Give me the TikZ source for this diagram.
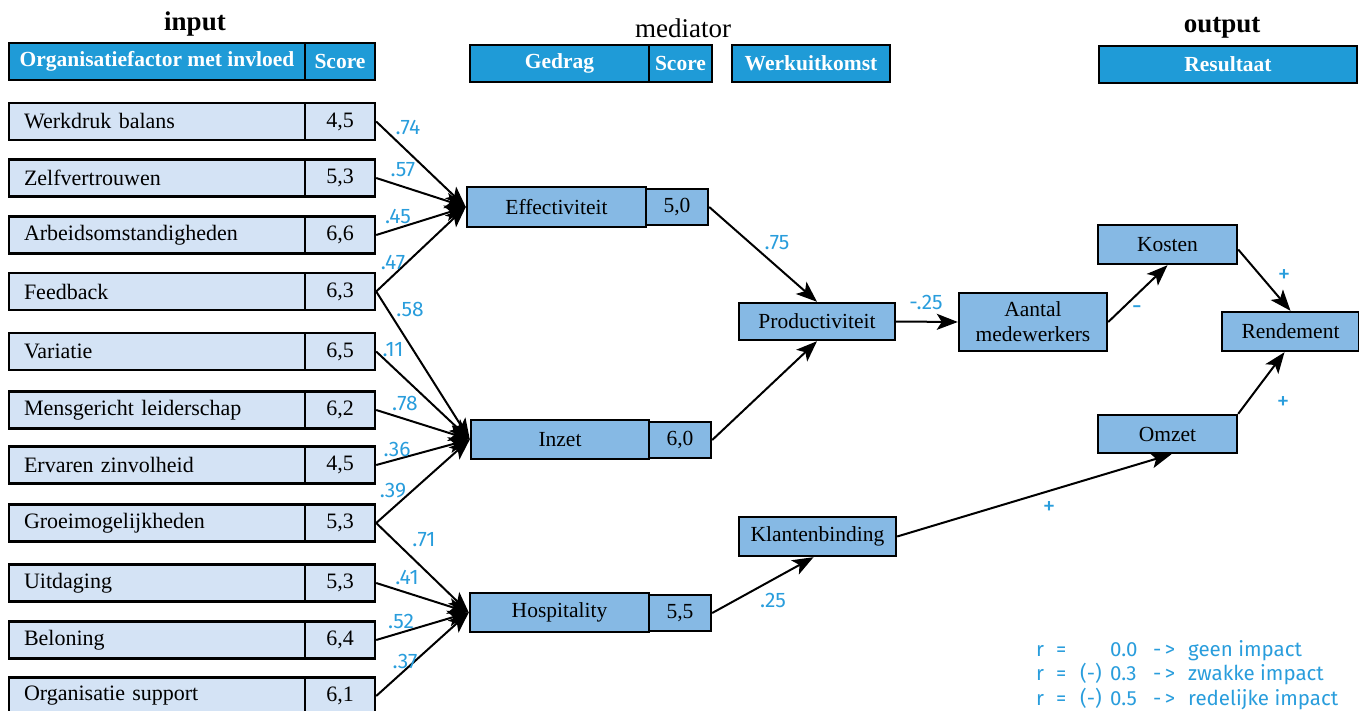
\documentclass[tikz,border=0pt]{standalone}
\usepackage{fontspec}
\setmainfont{Liberation Serif}
\newfontfamily\lblfont{Fira Sans}
\usetikzlibrary{arrows.meta}
\definecolor{hdrblue}{RGB}{31,155,215}
\definecolor{inblue}{RGB}{212,227,245}
\definecolor{medblue}{RGB}{134,185,228}
\definecolor{lblblue}{RGB}{41,157,220}
\tikzset{
  boxbase/.style={draw=black, line width=2.4pt, inner sep=0pt, anchor=center},
  hdrbox/.style={boxbase, fill=hdrblue, text=white, minimum height=37pt, font=\fontsize{21.5}{24}\selectfont\bfseries},
  inname/.style={boxbase, fill=inblue, minimum height=37pt, inner xsep=15pt, text width=266pt, align=left, font=\fontsize{22}{24}\selectfont},
  inscore/.style={boxbase, fill=inblue, minimum height=37pt, minimum width=70pt, font=\fontsize{22}{24}\selectfont},
  medbox/.style={boxbase, fill=medblue, font=\fontsize{21.5}{24}\selectfont, align=center},
  conn/.style={line width=2pt, -{Stealth[length=21pt,width=16pt,inset=5pt]}},
  lbl/.style={text=lblblue, font=\lblfont\fontsize{21}{23}\selectfont, inner sep=0pt, anchor=center},
  sign/.style={lbl, font=\lblfont\fontsize{25}{27}\selectfont},
  heading/.style={inner sep=0pt, anchor=center}
}
\begin{document}
\begin{tikzpicture}[x=1pt,y=-1pt]
\useasboundingbox (0,0) rectangle (1359,711);
\clip (0,0) rectangle (1359,711);

% headings
\node[heading, font=\fontsize{27}{30}\selectfont\bfseries] (hin) at (195,24) {input};
\node[heading, font=\fontsize{27}{30}\selectfont] (hmed) at (683,28) {mediator};
\node[heading, font=\fontsize{27}{30}\selectfont\bfseries] (hout) at (1222,28) {output};

% header boxes
\node[hdrbox, minimum width=296pt] (horg) at (157,61.5) {Organisatiefactor met invloed};
\node[hdrbox, minimum width=70pt] (horgs) at (340,61.5) {Score};
\node[hdrbox, minimum width=179pt] (hged) at (559.5,63.5) {Gedrag};
\node[hdrbox, minimum width=63pt] (hgeds) at (680.5,63.5) {Score};
\node[hdrbox, minimum width=158pt] (hwerk) at (811,63.5) {Werkuitkomst};
\node[hdrbox, minimum width=258pt] (hres) at (1228,64.5) {Resultaat};

% input rows
\foreach \i/\yy/\nm/\sc in {
  1/121.5/Werkdruk balans/{4,5},
  2/178/Zelfvertrouwen/{5,3},
  3/235/Arbeidsomstandigheden/{6,6},
  4/291.5/Feedback/{6,3},
  5/351.5/Variatie/{6,5},
  6/410/Mensgericht leiderschap/{6,2},
  7/465/Ervaren zinvolheid/{4,5},
  8/523/Groeimogelijkheden/{5,3},
  9/583/Uitdaging/{5,3},
  10/640/Beloning/{6,4},
  11/696/Organisatie support/{6,1}}{
  \node[inname] (r\i) at (157,\yy) {\nm};
  \node[inscore] (r\i s) at (340,\yy) {\raisebox{-2pt}{\sc}};
}

% mediator boxes
\node[medbox, minimum width=179pt, minimum height=40pt] (eff) at (556.5,207) {Effectiviteit};
\node[medbox, minimum width=62pt, minimum height=36pt] (effs) at (677,207) {\raisebox{-2pt}{5,0}};
\node[medbox, minimum width=178pt, minimum height=39pt] (inz) at (560,439.5) {Inzet};
\node[medbox, minimum width=62pt, minimum height=36pt] (inzs) at (680,440) {\raisebox{-2pt}{6,0}};
\node[medbox, minimum width=179pt, minimum height=39pt] (hos) at (559.5,612.5) {Hospitality};
\node[medbox, minimum width=62pt, minimum height=36pt] (hoss) at (680,613) {\raisebox{-2pt}{5,5}};

\node[medbox, minimum width=156pt, minimum height=37pt] (prod) at (817,321.5) {Productiviteit};
\node[medbox, minimum width=148pt, minimum height=58pt, font=\fontsize{21.5}{25}\selectfont] (aant) at (1033,322) {Aantal\\medewerkers};
\node[medbox, minimum width=139pt, minimum height=39pt] (kost) at (1167.5,244.5) {Kosten};
\node[medbox, minimum width=137pt, minimum height=39pt] (rend) at (1290.5,331.5) {Rendement};
\node[medbox, minimum width=139pt, minimum height=38pt] (omz) at (1167.5,434) {Omzet};
\node[medbox, minimum width=157pt, minimum height=39pt] (klant) at (817.5,536.5) {Klantenbinding};

% connectors input -> mediators
\foreach \s in {1,2,3,4}{\draw[conn] (r\s s.east) -- (eff.west);}
\foreach \s in {4,5,6,7,8}{\draw[conn] (r\s s.east) -- (inz.west);}
\foreach \s in {8,9,10,11}{\draw[conn] (r\s s.east) -- (hos.west);}

% other connectors
\draw[conn] (effs.east) -- (prod.north);
\draw[conn] (inzs.east) -- (prod.south);
\draw[conn] (prod.east) -- (aant.west);
\draw[conn] (aant.east) -- (kost.south);
\draw[conn] ([yshift=-5pt]kost.east) -- (rend.north);
\draw[conn] (omz.north east) -- ([xshift=-6pt]rend.south);
\draw[conn] (klant.east) -- ([xshift=4pt]omz.south);
\draw[conn] (hoss.east) -- ([xshift=-4pt]klant.south);

% labels
\node[lbl] (l1) at (408,127) {.74};
\node[lbl] (l2) at (403,170) {.57};
\node[lbl] (l3) at (398,216) {.45};
\node[lbl] (l4) at (393,262) {.47};
\node[lbl] (l5) at (410,309) {.58};
\node[lbl] (l6) at (393,350) {.11};
\node[lbl] (l7) at (405,403) {.78};
\node[lbl] (l8) at (397,449) {.36};
\node[lbl] (l9) at (393,491) {.39};
\node[lbl] (l10) at (424,540) {.71};
\node[lbl] (l11) at (407,577) {.41};
\node[lbl] (l12) at (401,621) {.52};
\node[lbl] (l13) at (405,661) {.37};
\node[lbl] (l14) at (777,243) {.75};
\node[lbl] (l15) at (926,302) {-.25};
\node[sign] (l16) at (1137,310) {-};
\node[sign] (l17) at (1284,276) {+};
\node[sign] (l18) at (1283,403) {+};
\node[sign] (l19) at (1049,508) {+};
\node[lbl] (l20) at (773,600) {.25};

% legend
\node[text=lblblue, font=\lblfont\fontsize{20.5}{24.5}\selectfont, inner sep=0pt, anchor=north west, align=left] (legend) at (1036,640) {%
\makebox[20pt][l]{r}\makebox[24pt][l]{=}\makebox[30pt][l]{}\makebox[43pt][l]{0.0}\makebox[35pt][l]{-\,>}geen impact\\
\makebox[20pt][l]{r}\makebox[24pt][l]{=}\makebox[30pt][l]{(-)}\makebox[43pt][l]{0.3}\makebox[35pt][l]{-\,>}zwakke impact\\
\makebox[20pt][l]{r}\makebox[24pt][l]{=}\makebox[30pt][l]{(-)}\makebox[43pt][l]{0.5}\makebox[35pt][l]{-\,>}redelijke impact};
\end{tikzpicture}
\end{document}
